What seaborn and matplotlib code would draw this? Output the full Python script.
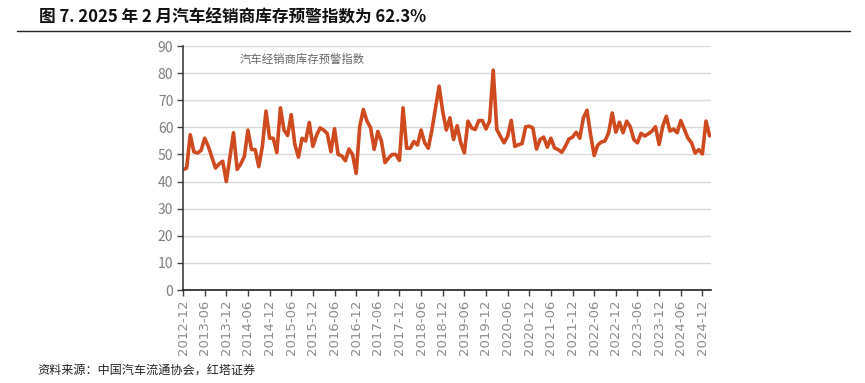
import numpy as np
import matplotlib
matplotlib.use("Agg")
import matplotlib.pyplot as plt
from matplotlib.lines import Line2D
import seaborn as sns
import pandas as pd

# monthly index 2012-12 .. 2025-02 (%)
index_values = [
    44.4, 45.0, 57.3, 51.0, 50.5, 51.5, 56.0, 53.0, 49.0, 45.0, 46.5, 47.5,
    40.0, 49.0, 58.0, 44.5, 46.5, 49.3, 59.0, 51.8, 51.8, 45.5, 53.0, 66.0,
    56.0, 56.0, 50.7, 67.2, 59.0, 57.0, 64.7, 53.7, 49.0, 56.0, 55.0, 61.8,
    53.0, 57.0, 59.8, 59.0, 57.7, 51.0, 59.5, 50.0, 49.5, 47.7, 52.0, 50.0,
    43.0, 60.4, 66.6, 62.3, 59.9, 51.9, 58.5, 55.0, 47.0, 48.7, 50.0, 50.0,
    47.8, 67.2, 52.3, 52.3, 54.8, 53.5, 59.0, 54.3, 52.3, 59.0, 67.0, 75.2,
    65.9, 59.0, 63.5, 55.5, 60.6, 54.3, 50.6, 62.3, 59.8, 59.2, 62.5, 62.5,
    59.4, 62.3, 81.1, 59.2, 56.7, 54.3, 56.7, 62.6, 53.0, 53.6, 54.0, 60.2,
    60.4, 59.8, 52.0, 55.5, 56.4, 52.7, 56.0, 52.4, 51.8, 50.8, 53.0, 55.7,
    56.4, 58.2, 56.0, 63.5, 66.3, 57.3, 49.6, 53.5, 54.6, 55.0, 58.0, 65.3,
    58.2, 61.9, 58.0, 62.3, 60.2, 55.5, 54.3, 57.8, 56.8, 57.6, 58.6, 60.2,
    53.7, 60.4, 64.1, 58.6, 59.4, 58.0, 62.5, 59.2, 56.0, 54.3, 50.5, 51.8,
    50.2, 62.3, 56.9,
]
months = list(pd.period_range("2012-12", "2025-02", freq="M").strftime("%Y-%m"))
y_ticks = [0, 10, 20, 30, 40, 50, 60, 70, 80, 90]

title = "图 7. 2025 年 2 月汽车经销商库存预警指数为 62.3%"
series_name = "汽车经销商库存预警指数"
source = "资料来源：中国汽车流通协会，红塔证券"

df = pd.DataFrame({"pos": np.arange(len(index_values)), "value": index_values, "month": months})

sns.set_theme(style="white")
plt.rcParams["font.family"] = ["Noto Sans CJK SC", "DejaVu Sans"]

fig = plt.figure(figsize=(8.65, 3.83), dpi=100)
ax = fig.add_axes([0.2116, 0.2428, 0.610, 0.637])

sns.lineplot(data=df, x="pos", y="value", ax=ax, color="#CF4A1F", linewidth=2.6)

ax.set_xlim(0, len(index_values) - 0.7)
ax.set_ylim(0, 90)
ax.set_yticks(y_ticks)
ax.set_yticklabels([str(t) for t in y_ticks], color="#7f7f7f", fontsize=10)
tick_pos = df["pos"][::6]
ax.set_xticks(tick_pos)
ax.set_xticklabels(df["month"][::6], rotation=90, color="#8c8c8c", fontsize=9.5,
                   family=["DejaVu Sans"])
ax.grid(axis="y", color="#d9d9d9", linewidth=1)
ax.set_axisbelow(True)
ax.set_xlabel("")
ax.set_ylabel("")
for side in ["top", "right"]:
    ax.spines[side].set_visible(False)
ax.spines["left"].set_color("#404040")
ax.spines["bottom"].set_color("#202020")
ax.spines["left"].set_linewidth(1.2)
ax.spines["bottom"].set_linewidth(1.2)
ax.tick_params(axis="both", direction="out", length=4, width=1, color="#404040",
               bottom=True, left=True, pad=3)

ax.text(0.108, 0.945, series_name, transform=ax.transAxes, ha="left", va="center",
        fontsize=8.2, color="#666666")

fig.text(0.045, 0.955, title, ha="left", va="center", fontsize=12, fontweight="bold",
         color="#111111")
fig.add_artist(Line2D([0.02, 0.983], [0.919, 0.919], color="#222222", linewidth=1,
                      transform=fig.transFigure))
fig.text(0.043, 0.033, source, ha="left", va="center", fontsize=8.7, color="#222222")

fig.savefig("out.png", dpi=100)
